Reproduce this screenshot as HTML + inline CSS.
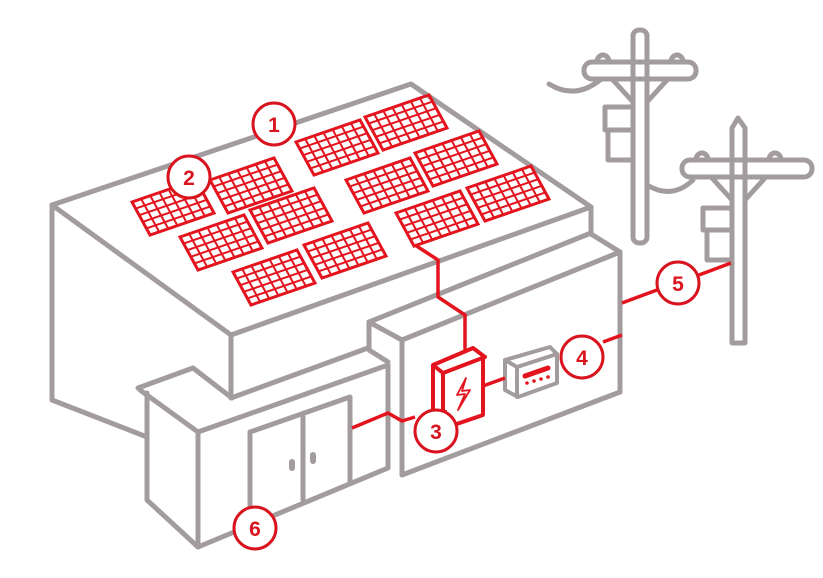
<!DOCTYPE html>
<html><head><meta charset="utf-8"><style>
html,body{margin:0;padding:0;background:#fff;}
svg{display:block;}
text{font-family:"Liberation Sans",sans-serif;font-weight:bold;font-size:21px;fill:#d9141e;}
</style></head><body>
<svg width="823" height="578" viewBox="0 0 823 578" xmlns="http://www.w3.org/2000/svg">
<defs>
<g id="pn">
<rect x="0" y="0" width="1" height="1" fill="none" stroke="#e4141e" stroke-width="3" vector-effect="non-scaling-stroke"/>
<path d="M0.1429 0V1M0.2857 0V1M0.4286 0V1M0.5714 0V1M0.7143 0V1M0.8571 0V1M0 0.2H1M0 0.4H1M0 0.6H1M0 0.8H1" fill="none" stroke="#e4141e" stroke-width="2" vector-effect="non-scaling-stroke"/>
</g>
</defs>
<g fill="none" stroke="#a39c9e" stroke-width="5" stroke-linejoin="round" stroke-linecap="round">
<!-- main building -->
<path d="M52 205 L411 84 L591 207 L231 335 Z"/>
<path d="M52 205 V400 L147 437"/>
<path d="M231 335 V398 L368 348"/>
<path d="M591 207 V233 L369 322"/>
<!-- middle box -->
<path d="M369 322 L402 340 L620 252 L591 234"/>
<path d="M369 322 V350 L388 362"/>
<path d="M402 340 V475 L620 392 V252"/>
<!-- low box -->
<path d="M138 388 L193 368 L232 398"/>
<path d="M140 390 L198 432 L388 365 V468 L198 547 L147 500 V393"/>
<path d="M198 432 V547"/>
<!-- door -->
<path d="M250 540 V432 L350 397 V482"/>
<path d="M303 417 V500"/>
<!-- meter -->
<path d="M505 360 L550 347 L557 354 L517 367 Z" stroke-width="4"/>
<path d="M505 360 V390 L518 397 L557 383 V354 M517 367 V397" stroke-width="4"/>
<!-- poles -->
<rect x="633" y="30" width="14" height="213" rx="6"/>
<rect x="584" y="62" width="112" height="17" rx="8"/>
<path d="M597 62 a6 7 0 0 1 12 0 M671 62 a6 7 0 0 1 12 0"/>
<path d="M613 80 L633 102 M667 80 L647 102"/>
<path d="M633 107 H605 V130 H633 M608 130 V160 H633"/>
<path d="M549 84 Q575 100 600 80"/>
<path d="M647 185 Q672 200 693 180"/>
<path d="M732 343 V128 L738 118 L745 128 V343 Z"/>
<rect x="682" y="160" width="130" height="17" rx="8"/>
<path d="M696 160 a6 7 0 0 1 12 0 M769 160 a6 7 0 0 1 12 0"/>
<path d="M712 178 L732 200 M765 178 L745 200"/>
<path d="M732 208 H703 V230 H732 M707 230 V260 H732"/>
</g>
<circle cx="292" cy="465" r="3" fill="#a39c9e" transform="rotate(0)"/>
<rect x="289" y="459" width="6" height="12" rx="3" fill="#a39c9e"/>
<rect x="310" y="452" width="6" height="12" rx="3" fill="#a39c9e"/>
<!-- panels -->
<use href="#pn" transform="matrix(64,-22,18,33,296,142)"/>
<use href="#pn" transform="matrix(64,-22,18,33,365,117)"/>
<use href="#pn" transform="matrix(64,-22,18,33,346,180)"/>
<use href="#pn" transform="matrix(64,-22,18,33,415,153)"/>
<use href="#pn" transform="matrix(64,-22,18,33,396,213)"/>
<use href="#pn" transform="matrix(64,-22,18,33,467,188)"/>
<use href="#pn" transform="matrix(64,-22,18,33,132,202)"/>
<use href="#pn" transform="matrix(64,-22,18,33,210,180)"/>
<use href="#pn" transform="matrix(64,-22,18,33,180,237)"/>
<use href="#pn" transform="matrix(64,-22,18,33,250,210)"/>
<use href="#pn" transform="matrix(64,-22,18,33,233,272)"/>
<use href="#pn" transform="matrix(64,-22,18,33,304,245)"/>
<!-- red wires -->
<g fill="none" stroke="#e4141e" stroke-width="3.5" stroke-linejoin="round">
<path d="M415 245 L438 260 V297 L465 315 V352"/>
<path d="M483 386 L505 378"/>
<path d="M352 428 L388 413 L402 421 L415 417"/>
<path d="M445 410 V425"/>
<path d="M603 342 L622 335"/>
<path d="M622 303 L657 290 M699 275 L731 263"/>
<path d="M433 365 L473 348 L485 357 L443 373 Z" stroke-width="4"/>
<path d="M433 365 V412 L445 428 L483 415 V357 M443 373 V428" stroke-width="4"/>
<path d="M466 378 L457 395 L465 394 L458 410 L470 390 L462 391 Z" stroke-width="1.8"/>
</g>
<path d="M525 376 L548 368" stroke="#e4141e" stroke-width="5" stroke-linecap="round"/>
<g fill="#e4141e"><circle cx="527" cy="383" r="1.8"/><circle cx="534" cy="381" r="1.8"/><circle cx="541" cy="379" r="1.8"/><circle cx="548" cy="377" r="1.8"/></g>
<!-- callouts -->
<g fill="#fff" stroke="#d9141e" stroke-width="3">
<circle cx="274" cy="124" r="21"/>
<circle cx="189" cy="177" r="21"/>
<circle cx="436" cy="431" r="21"/>
<circle cx="582" cy="357" r="21"/>
<circle cx="678" cy="283" r="21"/>
<circle cx="255" cy="528" r="21"/>
</g>
<text x="274" y="132" text-anchor="middle">1</text>
<text x="189" y="185" text-anchor="middle">2</text>
<text x="436" y="439" text-anchor="middle">3</text>
<text x="582" y="365" text-anchor="middle">4</text>
<text x="678" y="291" text-anchor="middle">5</text>
<text x="255" y="536" text-anchor="middle">6</text>
</svg>
</body></html>
